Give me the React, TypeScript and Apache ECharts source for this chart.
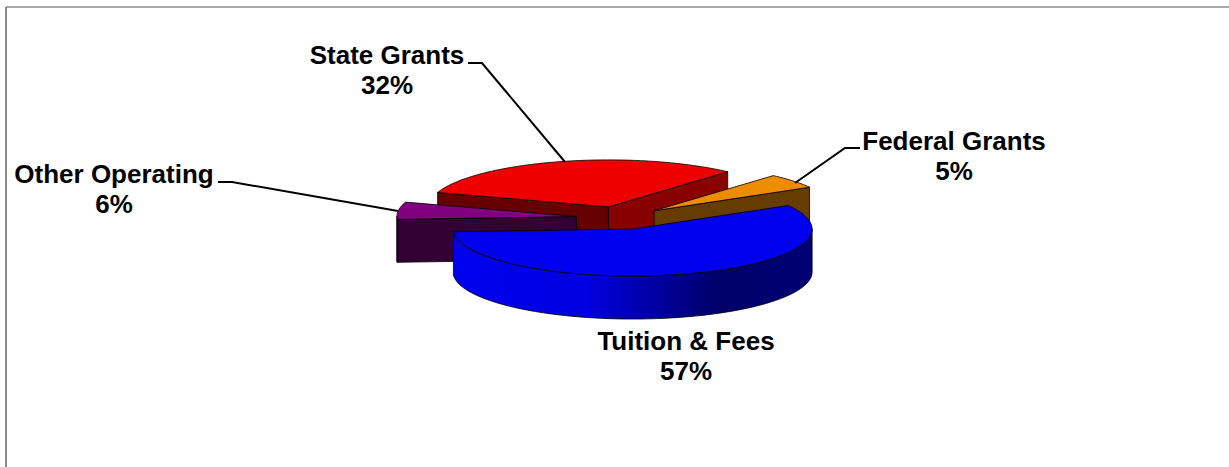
import React, { useEffect, useRef } from "react";
import * as echarts from "echarts";

const categories = ["Tuition & Fees", "Other Operating", "State Grants", "Federal Grants"];
const shares = [57.4, 5.9, 31.6, 5.1];

const topColors = ["#0000ee", "#800080", "#ee0000", "#ee8c00"];
const startWallColors = ["#000088", "#330033", "#660000", "#663c00"];
const endWallColors = ["#000088", "#330033", "#880000", "#663c00"];
const drawOrder = [2, 3, 1, 0];

const CX = 620;
const CY = 218;
const RX = 179.5;
const RY = 47;
const DEPTH = 43;
const EXPLODE = 0.245;
const START_DEG = -30;

const LABEL_FONT = '"Liberation Sans", Arial, sans-serif';
const labelCenters = [
  [686, 356],
  [114, 188.5],
  [387, 70],
  [954, 156],
];
const leaders = [
  null,
  [[218, 182], [232, 182], [398, 211]],
  [[468, 63], [482, 63], [565, 162]],
  [[860, 148], [845, 148], [795, 183]],
];

const rad = (d: number) => (d * Math.PI) / 180;
const total = shares.reduce((a, b) => a + b, 0);

function sliceAngles(i: number) {
  let a = START_DEG;
  for (let k = 0; k < i; k++) a += (shares[k] / total) * 360;
  return [a, a + (shares[i] / total) * 360];
}

function arcPoints(cx: number, cy: number, a0: number, a1: number) {
  const n = Math.max(2, Math.ceil(Math.abs(a1 - a0) / 1.5));
  const pts: number[][] = [];
  for (let j = 0; j <= n; j++) {
    const t = rad(a0 + ((a1 - a0) * j) / n);
    pts.push([cx + RX * Math.cos(t), cy + RY * Math.sin(t)]);
  }
  return pts;
}

const edge = { stroke: "#000", lineWidth: 0.8, lineJoin: "round" as const };

function renderSlice(_params: any, api: any) {
  const i = api.value(0);
  const [a0, a1] = sliceAngles(i);
  const mid = rad((a0 + a1) / 2);
  const cx = CX + EXPLODE * RX * Math.cos(mid);
  const cy = CY + EXPLODE * RY * Math.sin(mid);
  const children: any[] = [];
  const poly = (points: number[][], fill: any) =>
    children.push({ type: "polygon", shape: { points }, style: { fill, ...edge } });
  const wall = (t: number, fill: string) => {
    const x = cx + RX * Math.cos(rad(t));
    const y = cy + RY * Math.sin(rad(t));
    poly([[cx, cy], [x, y], [x, y + DEPTH], [cx, cy + DEPTH]], fill);
  };
  if (Math.cos(rad(a0)) < 0) wall(a0, startWallColors[i]);
  if (Math.cos(rad(a1)) > 0) wall(a1, endWallColors[i]);
  const w0 = Math.max(a0, 0);
  const w1 = Math.min(a1, 180);
  if (w1 > w0) {
    const upper = arcPoints(cx, cy, w0, w1);
    const lower = upper.map((p) => [p[0], p[1] + DEPTH]).reverse();
    const fill =
      i === 0
        ? new echarts.graphic.LinearGradient(0, 0, 1, 0, [
            { offset: 0, color: "#0000ee" },
            { offset: 0.38, color: "#0000e0" },
            { offset: 0.74, color: "#000068" },
            { offset: 1, color: "#000074" },
          ])
        : startWallColors[i];
    poly([...upper, ...lower], fill);
  }
  poly([[cx, cy], ...arcPoints(cx, cy, a0, a1)], topColors[i]);
  return { type: "group", children };
}

export default function App() {
  const ref = useRef<HTMLDivElement>(null);
  useEffect(() => {
    const chart = echarts.init(ref.current!, null, { renderer: "svg" });
    const graphic: any[] = [
      { type: "line", shape: { x1: 6, y1: 7, x2: 1229, y2: 7 }, style: { stroke: "#8f8f8f", lineWidth: 1.5 } },
      { type: "line", shape: { x1: 6, y1: 7, x2: 6, y2: 467 }, style: { stroke: "#666", lineWidth: 1.5 } },
    ];
    categories.forEach((name, i) => {
      const lead = leaders[i];
      if (lead) {
        graphic.push({
          type: "polyline",
          z: 3,
          shape: { points: lead },
          style: { stroke: "#000", lineWidth: 2, fill: "none" },
        });
      }
      graphic.push({
        type: "text",
        z: 3,
        x: labelCenters[i][0],
        y: labelCenters[i][1],
        style: {
          text: `${name}\n${Math.round(shares[i])}%`,
          fill: "#000",
          font: `bold 26px ${LABEL_FONT}`,
          lineHeight: 30,
          align: "center",
          verticalAlign: "middle",
        },
      });
    });
    chart.setOption({
      animation: false,
      backgroundColor: "#fff",
      graphic,
      series: [
        {
          type: "custom",
          coordinateSystem: "none",
          silent: true,
          renderItem: renderSlice,
          data: drawOrder.map((i) => [i, shares[i]]),
        },
      ],
    });
    return () => chart.dispose();
  }, []);
  return <div ref={ref} style={{ position: "fixed", left: 0, top: 0, width: 1229, height: 467 }} />;
}
